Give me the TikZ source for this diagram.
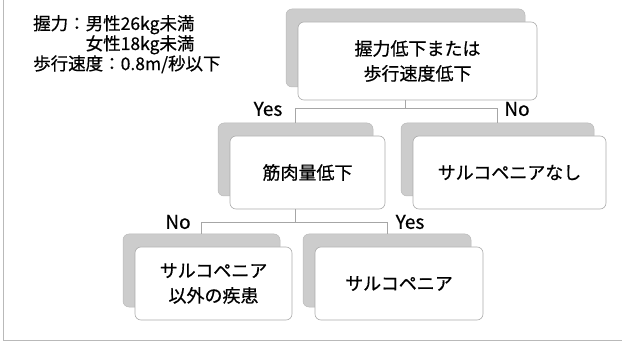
\documentclass[tikz,border=0pt]{standalone}
\usepackage{fontspec}
\setmainfont{Noto Sans CJK JP}[FakeBold=0.6]
\begin{document}
\begin{tikzpicture}[x=1pt,y=-1pt,
  frontbox/.style={draw=gray!65, line width=0.6pt, fill=white, rounded corners=6pt,
    inner sep=0pt, align=center, font=\fontsize{18}{25}\selectfont},
  shadowbox/.style={draw=gray!55, line width=0.5pt, fill=gray!40, rounded corners=6pt, inner sep=0pt},
  conn/.style={draw=gray!70, line width=0.6pt},
  lbl/.style={font=\fontsize{19}{19}\selectfont, inner sep=0pt},
  frameline/.style={draw=gray!55, line width=0.7pt}]
\useasboundingbox (0,0) rectangle (622,342);
\draw[frameline] (3,0) -- (3,340) -- (622,340);

% condition text
\node[anchor=north west, align=left, inner sep=0pt, font=\fontsize{17.5}{19}\selectfont] (cond) at (33,15)
  {握力：男性26kg未満\\\phantom{握力：}女性18kg未満\\歩行速度：0.8m/秒以下};

% shadows
\node[shadowbox, minimum width=239pt, minimum height=78pt] (topsh) at (405.5,48) {};
\node[shadowbox, minimum width=155pt, minimum height=73pt] (midLsh) at (295.5,159.5) {};
\node[shadowbox, minimum width=193pt, minimum height=73pt] (midRsh) at (497.5,159.5) {};
\node[shadowbox, minimum width=157pt, minimum height=73pt] (botLsh) at (201.5,270.5) {};
\node[shadowbox, minimum width=168pt, minimum height=73pt] (botRsh) at (387,270.5) {};

% front boxes
\node[frontbox, minimum width=239pt, minimum height=78pt] (top) at (417.5,61) {握力低下または\\歩行速度低下};
\node[frontbox, minimum width=155pt, minimum height=73pt] (midL) at (307.5,172.5) {筋肉量低下};
\node[frontbox, minimum width=193pt, minimum height=73pt] (midR) at (509.5,172.5) {サルコペニアなし};
\node[frontbox, minimum width=157pt, minimum height=73pt] (botL) at (213.5,283.5) {サルコペニア\\以外の疾患};
\node[frontbox, minimum width=168pt, minimum height=73pt] (botR) at (399,283.5) {サルコペニア};

% connectors
\draw[conn] (top.south -| topsh.center) -- ++(0,8) coordinate (j1);
\draw[conn] (midLsh.north) |- (j1) -| (midRsh.north);
\draw[conn] (midL.south -| midLsh.center) -- ++(0,13) coordinate (j2);
\draw[conn] (botLsh.north) |- (j2) -| (botRsh.north);

% labels
\node[lbl] (yes1) at (268,109) {Yes};
\node[lbl] (no1) at (517,109) {No};
\node[lbl] (no2) at (178,222) {No};
\node[lbl] (yes2) at (410,222) {Yes};
\end{tikzpicture}
\end{document}
